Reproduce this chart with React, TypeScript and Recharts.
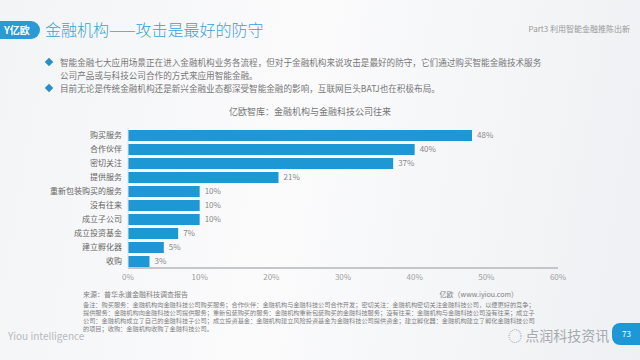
import React from "react";
import { BarChart, Bar, XAxis, YAxis, CartesianGrid, LabelList } from "recharts";

const categories = ["购买服务", "合作伙伴", "密切关注", "提供服务", "重新包装购买的服务", "没有往来", "成立子公司", "成立投资基金", "建立孵化器", "收购"];
const shares = [48, 40, 37, 21, 10, 10, 10, 7, 5, 3];
const xTicks = [0, 10, 20, 30, 40, 50, 60];

const bullets = [
  "智能金融七大应用场景正在进入金融机构业务各流程，但对于金融机构来说攻击是最好的防守，它们通过购买智能金融技术服务",
  "公司产品或与科技公司合作的方式来应用智能金融。",
  "目前无论是传统金融机构还是新兴金融业态都深受智能金融的影响，互联网巨头BATJ也在积极布局。",
];

const notes = [
  "备注：购买服务：金融机构向金融科技公司购买服务；合作伙伴：金融机构与金融科技公司合作开发；密切关注：金融机构密切关注金融科技公司，以便更好的竞争；",
  "提供服务：金融机构向金融科技公司提供服务；重新包装购买的服务：金融机构重新包装购买的金融科技服务；没有往来：金融机构与金融科技公司没有往来；成立子",
  "公司：金融机构成立了自己的金融科技子公司；成立投资基金：金融机构建立风险投资基金为金融科技公司提供资金；建立孵化器：金融机构建立了孵化金融科技公司",
  "的项目；收购：金融机构收购了金融科技公司。",
];

const data = categories.map((name, i) => ({ name, value: shares[i] }));

const font = "'Noto Sans CJK SC', 'Noto Sans', sans-serif";

export default function App() {
  return (
    <div style={{ position: "absolute", left: 0, top: 0, width: 640, height: 360, overflow: "hidden", fontFamily: font, background: "linear-gradient(100deg, #f3f4f6 0%, #fbfbfc 45%, #eef0f3 100%)" }}>
      {/* header */}
      <div style={{ position: "absolute", left: -6, top: 21, width: 46, height: 18, background: "#2a9ad4", borderRadius: "0 9px 9px 0", color: "#fff", fontSize: 10, lineHeight: "18px", paddingLeft: 10, boxSizing: "border-box", fontWeight: 700 }}>Y亿欧</div>
      <div style={{ position: "absolute", left: 45, top: 18, fontSize: 16, color: "#3aa3d8", lineHeight: "22px", fontWeight: 300 }}>金融机构——攻击是最好的防守</div>
      <div style={{ position: "absolute", right: 10, top: 23, fontSize: 8, color: "#999" }}>Part3 利用智能金融推陈出新</div>

      {/* bullets */}
      {bullets.map((t, i) => (
        <div key={i} style={{ position: "absolute", left: 60, top: 56 + i * 13, fontSize: 8.6, color: "#777", whiteSpace: "nowrap", lineHeight: "13px" }}>
          {i !== 1 ? <span style={{ position: "absolute", left: -14, top: 3, width: 6, height: 6, background: "#2a8fc4", transform: "rotate(45deg)" }} /> : null}
          {t}
        </div>
      ))}

      <div style={{ position: "absolute", left: 0, width: 620, textAlign: "center", top: 105, fontSize: 9, color: "#777" }}>亿欧智库：金融机构与金融科技公司往来</div>

      <div style={{ position: "absolute", left: 0, top: 120 }}>
        <BarChart width={640} height={170} data={data} layout="vertical" margin={{ top: 8, right: 82, bottom: 4, left: 8 }} barSize={11}>
          <CartesianGrid horizontal={false} vertical={false} />
          <XAxis type="number" domain={[0, 60]} ticks={xTicks} tickFormatter={(v) => `${v}%`} height={18} tickSize={0} tickMargin={6} axisLine={{ stroke: "#c4c6c9", strokeWidth: 2 }} tick={{ fontSize: 8, fill: "#a0a0a0", fontFamily: font }} />
          <YAxis type="category" dataKey="name" width={120} tickSize={0} tickMargin={6} axisLine={{ stroke: "#dde0e3" }} tick={{ fontSize: 8, fill: "#666", fontFamily: font }} interval={0} />
          <Bar dataKey="value" fill="#1e98d4" isAnimationActive={false}>
            <LabelList dataKey="value" position="right" offset={5} formatter={(v: number) => `${v}%`} style={{ fontSize: 8, fill: "#888", fontFamily: font }} />
          </Bar>
        </BarChart>
      </div>

      {/* footer */}
      <div style={{ position: "absolute", left: 83, top: 289, fontSize: 7, color: "#808080" }}>来源：普华永道金融科技调查报告</div>
      <div style={{ position: "absolute", right: 122, top: 289, fontSize: 7, color: "#808080" }}>亿欧（www.iyiou.com）</div>
      {notes.map((t, i) => (
        <div key={i} style={{ position: "absolute", left: 83, top: 301 + i * 8, fontSize: 6.2, lineHeight: "8px", color: "#808080", whiteSpace: "nowrap" }}>{t}</div>
      ))}
      <div style={{ position: "absolute", left: 8, top: 328, fontSize: 10, color: "#b5b9bf" }}>Yiou intelligence</div>
      <div style={{ position: "absolute", left: 508, top: 325, fontSize: 14, color: "#9a9ea3", opacity: 0.85, whiteSpace: "nowrap" }}>◌ 点润科技资讯</div>
      <div style={{ position: "absolute", left: 612, top: 323, width: 40, height: 22, background: "#1e98d4", borderRadius: "8px 0 0 8px", color: "#fff", fontSize: 8, lineHeight: "22px", paddingLeft: 10, boxSizing: "border-box" }}>73</div>
    </div>
  );
}
